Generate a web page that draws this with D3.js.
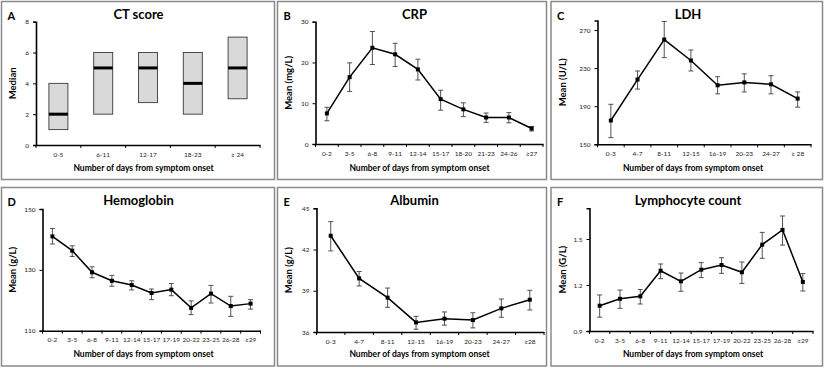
<!DOCTYPE html>
<html>
<head>
<meta charset="utf-8">
<script src="https://cdn.jsdelivr.net/npm/d3@7"></script>
<style>
  body { margin: 0; background: #fff; }
  text { font-family: Lato, "Open Sans", sans-serif; }
</style>
</head>
<body>
<div id="chart"></div>
<script>
// CT score (box of median with range)
const ctCats = ["0-5", "6-11", "12-17", "18-23", "≥ 24"];
const ctMedian = [2, 5, 5, 4, 5];
const ctLow = [1, 2, 2.75, 2, 3];
const ctHigh = [4, 6, 6, 6, 7];
const ctTicks = [0, 2, 4, 6, 8];

// CRP
const crpCats = ["0-2", "3-5", "6-8", "9-11", "12-14", "15-17", "18-20", "21-23", "24-26", "≥27"];
const crpMean = [7.5, 16.4, 23.6, 22.0, 18.3, 11.0, 8.5, 6.5, 6.5, 3.8];
const crpLow = [5.7, 12.9, 19.5, 19.0, 15.7, 8.3, 6.7, 5.3, 5.2, 3.2];
const crpHigh = [9.0, 19.9, 27.6, 24.7, 20.8, 13.2, 10.1, 7.6, 7.7, 4.3];
const crpTicks = [0, 10, 20, 30];

// LDH
const ldhCats = ["0-3", "4-7", "8-11", "12-15", "16-19", "20-23", "24-27", "≥ 28"];
const ldhMean = [175, 218, 260, 238, 212, 215, 213, 198];
const ldhLow = [157, 208, 241, 227, 203, 205, 203, 189];
const ldhHigh = [192, 227, 279, 249, 221, 224, 222, 205];
const ldhTicks = [150, 190, 230, 270];

// Hemoglobin
const hbCats = ["0-2", "3-5", "6-8", "9-11", "12-14", "15-17", "17-19", "20-22", "23-25", "26-28", "≥29"];
const hbMean = [141.0, 136.3, 129.2, 126.4, 125.0, 122.4, 123.5, 117.5, 122.2, 118.1, 118.9];
const hbLow = [138.5, 134.4, 127.4, 124.6, 123.4, 120.2, 121.5, 115.3, 119.1, 114.7, 117.1];
const hbHigh = [143.6, 137.9, 131.0, 128.2, 126.4, 123.7, 125.5, 119.8, 124.9, 121.3, 120.2];
const hbTicks = [110, 130, 150];

// Albumin
const albCats = ["0-3", "4-7", "8-11", "12-15", "16-19", "20-23", "24-27", "≥28"];
const albMean = [43.0, 39.9, 38.5, 36.7, 36.97, 36.87, 37.72, 38.35];
const albLow = [41.9, 39.35, 37.8, 36.2, 36.5, 36.3, 37.07, 37.6];
const albHigh = [44.03, 40.4, 39.2, 37.14, 37.46, 37.4, 38.4, 39.03];
const albTicks = [36, 39, 42, 45];

// Lymphocyte count
const lymCats = ["0-2", "3-5", "6-8", "9-11", "12-14", "15-17", "17-19", "20-22", "23-25", "26-28", "≥29"];
const lymMean = [1.065, 1.11, 1.126, 1.293, 1.224, 1.30, 1.33, 1.283, 1.463, 1.559, 1.22];
const lymLow = [0.99, 1.048, 1.076, 1.241, 1.159, 1.248, 1.276, 1.21, 1.374, 1.46, 1.161];
const lymHigh = [1.135, 1.167, 1.17, 1.337, 1.278, 1.346, 1.378, 1.35, 1.543, 1.65, 1.274];
const lymTicks = [0.9, 1.2, 1.5];

const xLabel = "Number of days from symptom onset";

const width = 825, height = 368;

// panel layout: box = frame, px/py = plot area
const panels = [
  { letter: "A", title: "CT score", ylab: "Median", cats: ctCats, mid: ctMedian, lo: ctLow, hi: ctHigh,
    ticks: ctTicks, ymax: 8, box: [1.5, 1.5, 273, 178], px: [36, 260], py: [21.7, 145], kind: "box" },
  { letter: "B", title: "CRP", ylab: "Mean (mg/L)", cats: crpCats, mid: crpMean, lo: crpLow, hi: crpHigh,
    ticks: crpTicks, ymax: 30, box: [277.5, 1.5, 269, 178], px: [315.5, 543], py: [21.7, 144] },
  { letter: "C", title: "LDH", ylab: "Mean (U/L)", cats: ldhCats, mid: ldhMean, lo: ldhLow, hi: ldhHigh,
    ticks: ldhTicks, ymax: 280, box: [551, 1.5, 271.5, 178], px: [597.5, 811], py: [20.5, 144.3] },
  { letter: "D", title: "Hemoglobin", ylab: "Mean (g/L)", cats: hbCats, mid: hbMean, lo: hbLow, hi: hbHigh,
    ticks: hbTicks, ymax: 150, box: [1.5, 187.5, 273, 178.5], px: [42.5, 260.5], py: [209, 330.7] },
  { letter: "E", title: "Albumin", ylab: "Mean (g/L)", cats: albCats, mid: albMean, lo: albLow, hi: albHigh,
    ticks: albTicks, ymax: 45, box: [277.5, 187.5, 269, 178.5], px: [316.5, 544], py: [208.3, 332] },
  { letter: "F", title: "Lymphocyte count", ylab: "Mean (G/L)", cats: lymCats, mid: lymMean, lo: lymLow, hi: lymHigh,
    ticks: lymTicks, ymax: 1.7, box: [551, 187.5, 271.5, 178.5], px: [589.5, 813], py: [208.3, 331] }
];

const svg = d3.select("#chart")
  .append("svg")
  .attr("width", width)
  .attr("height", height)
  .attr("viewBox", [0, 0, width, height]);

for (let p of panels) {
  const [bx, by, bw, bh] = p.box;
  const g = svg.append("g");

  // frame
  g.append("rect")
    .attr("x", bx).attr("y", by)
    .attr("width", bw).attr("height", bh)
    .attr("fill", "white")
    .attr("stroke", "#8a8a8a")
    .attr("stroke-width", 1.5);

  const x = d3.scaleBand()
    .domain(p.cats)
    .range(p.px);

  const y = d3.scaleLinear()
    .domain([p.ticks[0], p.ymax])
    .range([p.py[1], p.py[0]]);

  // y axis
  const yAxis = g.append("g")
    .attr("transform", `translate(${p.px[0]},0)`)
    .call(d3.axisLeft(y).tickValues(p.ticks).tickSize(3).tickPadding(4)
      .tickFormat(d => p.ticks[1] - p.ticks[0] < 1 ? d3.format(".1f")(d) : d));
  yAxis.select(".domain").attr("stroke", "#000").attr("stroke-width", 1.6);
  yAxis.selectAll(".tick line").attr("stroke", "#000");
  yAxis.selectAll(".tick text")
    .attr("font-size", 6.5)
    .attr("font-family", "Lato, sans-serif")
    .attr("fill", "#222");

  // x axis
  const xAxis = g.append("g")
    .attr("transform", `translate(0,${p.py[1]})`)
    .call(d3.axisBottom(x).tickSize(0).tickPadding(7));
  xAxis.select(".domain").attr("stroke", "#000").attr("stroke-width", 1.6);
  xAxis.selectAll(".tick text")
    .attr("font-size", 6.5)
    .attr("font-family", "Lato, sans-serif")
    .attr("fill", "#222");

  // boundary ticks between categories
  g.append("g")
    .selectAll("line")
    .data(d3.range(p.cats.length + 1))
    .join("line")
    .attr("x1", i => p.px[0] + i * x.step())
    .attr("x2", i => p.px[0] + i * x.step())
    .attr("y1", p.py[1])
    .attr("y2", p.py[1] + 3)
    .attr("stroke", "#000")
    .attr("stroke-width", 1);

  const data = p.cats.map((c, i) => ({ cat: c, mid: p.mid[i], lo: p.lo[i], hi: p.hi[i] }));
  const cx = d => x(d.cat) + x.bandwidth() / 2;

  if (p.kind === "box") {
    const bwid = 19;
    g.append("g")
      .selectAll("rect")
      .data(data)
      .join("rect")
      .attr("x", d => cx(d) - bwid / 2)
      .attr("width", bwid)
      .attr("y", d => y(d.hi))
      .attr("height", d => y(d.lo) - y(d.hi))
      .attr("fill", "#d9d9d9")
      .attr("stroke", "#3a3a3a")
      .attr("stroke-width", 0.9);
    g.append("g")
      .selectAll("line")
      .data(data)
      .join("line")
      .attr("x1", d => cx(d) - bwid / 2)
      .attr("x2", d => cx(d) + bwid / 2)
      .attr("y1", d => y(d.mid))
      .attr("y2", d => y(d.mid))
      .attr("stroke", "#000")
      .attr("stroke-width", 3);
  } else {
    // error bars
    const eb = g.append("g")
      .attr("stroke", "#404040")
      .attr("stroke-width", 0.9);
    eb.selectAll(".v")
      .data(data)
      .join("line")
      .attr("class", "v")
      .attr("x1", cx).attr("x2", cx)
      .attr("y1", d => y(d.lo)).attr("y2", d => y(d.hi));
    for (let key of ["lo", "hi"]) {
      eb.selectAll(".c" + key)
        .data(data)
        .join("line")
        .attr("class", "c" + key)
        .attr("x1", d => cx(d) - 2.5).attr("x2", d => cx(d) + 2.5)
        .attr("y1", d => y(d[key])).attr("y2", d => y(d[key]));
    }

    // mean line
    g.append("path")
      .datum(data)
      .attr("fill", "none")
      .attr("stroke", "#000")
      .attr("stroke-width", 1.5)
      .attr("d", d3.line().x(cx).y(d => y(d.mid)));

    g.append("g")
      .selectAll("rect")
      .data(data)
      .join("rect")
      .attr("x", d => cx(d) - 2)
      .attr("y", d => y(d.mid) - 2)
      .attr("width", 4)
      .attr("height", 4)
      .attr("fill", "#000");
  }

  // panel letter
  g.append("text")
    .attr("x", bx + 6)
    .attr("y", by + 18)
    .attr("font-family", "'Liberation Sans', Arial, sans-serif")
    .attr("font-weight", "bold")
    .attr("font-size", 11)
    .text(p.letter);

  // title
  g.append("text")
    .attr("x", bx + 137)
    .attr("y", by + 17.5)
    .attr("text-anchor", "middle")
    .attr("font-weight", "bold")
    .attr("font-size", 13)
    .text(p.title);

  // x label
  g.append("text")
    .attr("x", bx + 142)
    .attr("y", by + 169.5)
    .attr("text-anchor", "middle")
    .attr("font-weight", "bold")
    .attr("font-size", 8.5)
    .text(xLabel);

  // y label
  g.append("text")
    .attr("transform", `translate(${bx + 14.5},${(p.py[0] + p.py[1]) / 2}) rotate(-90)`)
    .attr("text-anchor", "middle")
    .attr("font-weight", "bold")
    .attr("font-size", 9.5)
    .text(p.ylab);
}
</script>
</body>
</html>
